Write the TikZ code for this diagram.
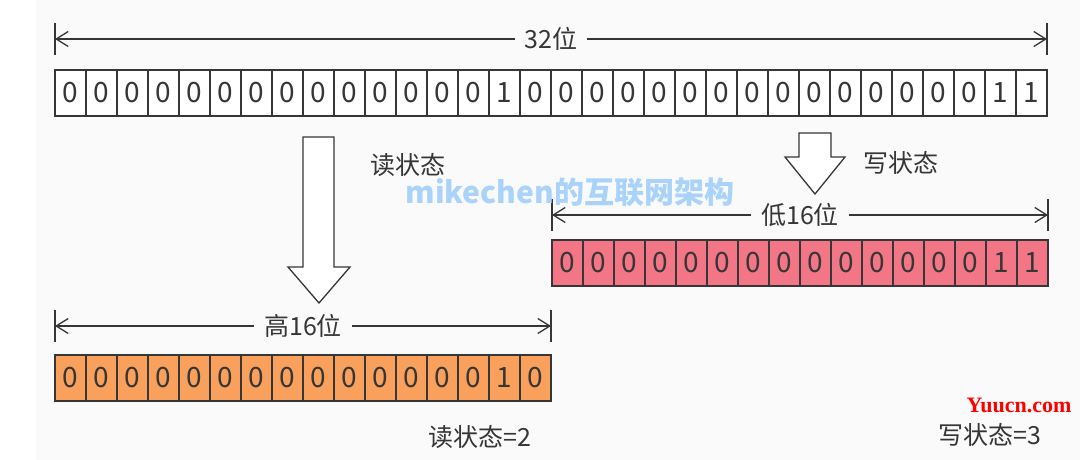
\documentclass[tikz,border=0pt]{standalone}
\usepackage{fontspec}
\setmainfont{Noto Sans CJK SC}
\newfontfamily\sitefont{Liberation Serif}
\usetikzlibrary{arrows.meta}
\definecolor{ink}{HTML}{363636}
\definecolor{lowpink}{HTML}{F37686}
\definecolor{highorange}{HTML}{F9A15C}
\definecolor{markblue}{HTML}{A9D3FB}
\definecolor{paper}{HTML}{FAFAFA}
\tikzset{
  bit/.style={draw=ink,line width=1.1pt,minimum width=31pt,minimum height=46pt,
    inner sep=0pt,outer sep=0pt,anchor=north west,text=ink,
    font=\fontsize{28}{28}\selectfont},
  dim/.style={{Straight Barb[length=12pt,width=15pt]}-{Straight Barb[length=12pt,width=15pt]},
    line width=1.3pt,draw=ink},
  tick/.style={line width=1.5pt,draw=ink},
  tag/.style={fill=paper,inner xsep=10pt,text=ink,font=\fontsize{25}{25}\selectfont},
  note/.style={text=ink,font=\fontsize{25}{25}\selectfont},
  hollow/.style={draw=ink,line width=1.3pt,fill=white,line join=miter}
}

\begin{document}
\begin{tikzpicture}[x=1pt,y=-1pt]
  \useasboundingbox (0,0) rectangle (1080,460);
  \fill[white] (0,0) rectangle (1080,460);
  \fill[paper] (36,0) rectangle (1080,460);

  % 32 bit word
  \foreach \b [count=\i from 0] in {0,0,0,0,0,0,0,0,0,0,0,0,0,0,1,0,0,0,0,0,0,0,0,0,0,0,0,0,0,0,1,1}
    \node[bit,fill=white] (w-\i) at ({55+31*\i},70) {\b};
  \coordinate (wl) at (55,39);
  \coordinate (wr) at (1047,39);
  \draw[tick] ([yshift=16pt]wl) -- ([yshift=-16pt]wl);
  \draw[tick] ([yshift=16pt]wr) -- ([yshift=-16pt]wr);
  \draw[dim] (wl) -- node[tag] {32位} (wr);

  % read / write arrows
  \draw[hollow] (303,137) -- (334,137) -- (334,267) -- (350,267) -- (319,303)
    -- (288,267) -- (303,267) -- cycle;
  \node[note] (readlbl) at (408,165) {读状态};
  \draw[hollow] (799,133) -- (831,133) -- (831,157) -- (845,157) -- (815,194)
    -- (785,157) -- (799,157) -- cycle;
  \node[note] (writelbl) at (901,163) {写状态};

  % low 16 bits
  \foreach \b [count=\i from 0] in {0,0,0,0,0,0,0,0,0,0,0,0,0,0,1,1}
    \node[bit,fill=lowpink] (lo-\i) at ({552+31*\i},240) {\b};
  \coordinate (ll) at (552,215);
  \coordinate (lr) at (1048,215);
  \draw[tick] ([yshift=16pt]ll) -- ([yshift=-16pt]ll);
  \draw[tick] ([yshift=16pt]lr) -- ([yshift=-16pt]lr);
  \draw[dim] (ll) -- node[tag] {低16位} (lr);

  % high 16 bits
  \foreach \b [count=\i from 0] in {0,0,0,0,0,0,0,0,0,0,0,0,0,0,1,0}
    \node[bit,fill=highorange] (hi-\i) at ({55+31*\i},355) {\b};
  \coordinate (hl) at (55,326);
  \coordinate (hr) at (551,326);
  \draw[tick] ([yshift=16pt]hl) -- ([yshift=-16pt]hl);
  \draw[tick] ([yshift=16pt]hr) -- ([yshift=-16pt]hr);
  \draw[dim] (hl) -- node[tag] {高16位} (hr);

  \node[note] (readval) at (480,437) {读状态=2};
  \node[note] (writeval) at (990,435) {写状态=3};

  \node[text=markblue,font=\fontsize{30}{30}\selectfont\bfseries] (mark) at (570,192)
    {mikechen的互联网架构};
  \node[text=red,font=\sitefont\fontsize{22}{22}\selectfont\bfseries] (site) at (1019,405)
    {Yuucn.com};
\end{tikzpicture}
\end{document}
